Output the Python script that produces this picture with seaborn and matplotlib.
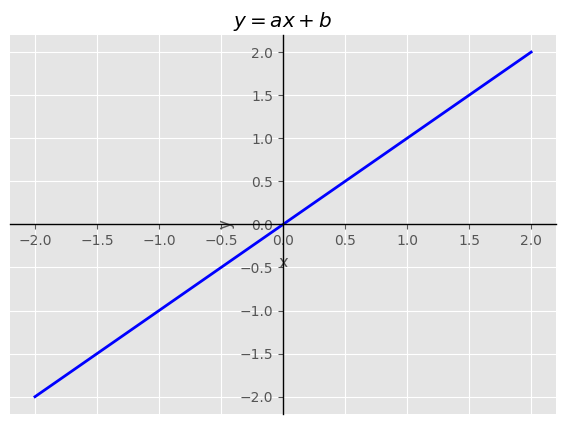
import matplotlib
matplotlib.use("Agg")
import matplotlib.pyplot as plt
import seaborn as sns
import pandas as pd

plt.style.use("ggplot")

# y = a*x + b with a = 1, b = 0
x_values = [-2.0, -1.0, 0.0, 1.0, 2.0]
y_values = [-2.0, -1.0, 0.0, 1.0, 2.0]

df = pd.DataFrame({"x": x_values, "y": y_values})

fig, ax = plt.subplots(figsize=(5.65, 4.25), dpi=100)
fig.subplots_adjust(left=0.018, right=0.984, top=0.918, bottom=0.026)

sns.lineplot(data=df, x="x", y="y", color="blue", linewidth=2, ax=ax)

ax.spines["left"].set_position("zero")
ax.spines["bottom"].set_position("zero")
ax.spines["right"].set_visible(False)
ax.spines["top"].set_visible(False)
for s in ("left", "bottom"):
    ax.spines[s].set_visible(True)
    ax.spines[s].set_color("black")
    ax.spines[s].set_linewidth(1.0)

ax.set_xlim(-2.2, 2.2)
ax.set_ylim(-2.2, 2.2)
ax.set_title("$y = ax + b$")
ax.set_xlabel("x")
ax.set_ylabel("y")

fig.savefig("out.png", dpi=100)
